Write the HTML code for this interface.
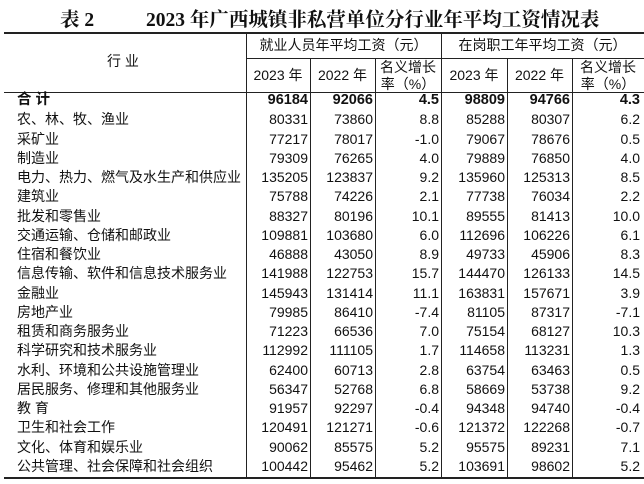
<!DOCTYPE html>
<html><head><meta charset="utf-8"><style>
body{margin:0;width:644px;height:484px;background:#fff;overflow:hidden;font-family:"Liberation Sans","Noto Sans CJK SC",sans-serif;color:#111;position:relative}
.t{position:absolute;top:4px;font:bold 19.5px "Liberation Serif","Noto Serif CJK SC",serif;white-space:pre}
.h{position:absolute;background:#222;height:1px}
.v{position:absolute;background:#222;width:1px}
.c{position:absolute;font-size:14px;text-align:center;line-height:17px}
table{position:absolute;top:91px;left:0;border-collapse:collapse;font-size:14px;table-layout:fixed;width:642px}
td{height:19.26px;padding:0 2px 0 0;line-height:19px;text-align:right;white-space:nowrap;overflow:hidden}
td.n{text-align:left;padding-left:17px}
tr.b td{font-weight:bold;font-size:14.5px}
</style></head><body>
<div class="t" style="left:60px">表 2</div>
<div class="t" style="left:146px">2023 年广西城镇非私营单位分行业年平均工资情况表</div>
<div class="h" style="left:4px;width:640px;top:32px;height:2px"></div>
<div class="h" style="left:246px;width:398px;top:58px"></div>
<div class="h" style="left:4px;width:640px;top:92px"></div>
<div class="h" style="left:4px;width:640px;top:477px;height:2px"></div>
<div class="v" style="left:246px;top:33px;height:445px"></div>
<div class="v" style="left:310px;top:58px;height:420px"></div>
<div class="v" style="left:375px;top:58px;height:420px"></div>
<div class="v" style="left:441px;top:33px;height:445px"></div>
<div class="v" style="left:507px;top:58px;height:420px"></div>
<div class="v" style="left:572px;top:58px;height:420px"></div>
<div class="c" style="left:0;width:246px;top:53px">行 业</div>
<div class="c" style="left:246px;width:195px;top:37px">就业人员年平均工资（元）</div>
<div class="c" style="left:441px;width:203px;top:37px">在岗职工年平均工资（元）</div>
<div class="c" style="left:246px;width:64px;top:67px">2023 年</div>
<div class="c" style="left:310px;width:65px;top:67px">2022 年</div>
<div class="c" style="left:375px;width:66px;top:59px">名义增长<br>率（%）</div>
<div class="c" style="left:441px;width:66px;top:67px">2023 年</div>
<div class="c" style="left:507px;width:65px;top:67px">2022 年</div>
<div class="c" style="left:572px;width:72px;top:59px">名义增长<br>率（%）</div>
<table>
<colgroup><col style="width:246px"><col style="width:64px"><col style="width:65px"><col style="width:66px"><col style="width:66px"><col style="width:65px"><col style="width:70px"></colgroup>
<tr class="b"><td class="n">合 计</td><td>96184</td><td>92066</td><td>4.5</td><td>98809</td><td>94766</td><td>4.3</td></tr>
<tr><td class="n">农、林、牧、渔业</td><td>80331</td><td>73860</td><td>8.8</td><td>85288</td><td>80307</td><td>6.2</td></tr>
<tr><td class="n">采矿业</td><td>77217</td><td>78017</td><td>-1.0</td><td>79067</td><td>78676</td><td>0.5</td></tr>
<tr><td class="n">制造业</td><td>79309</td><td>76265</td><td>4.0</td><td>79889</td><td>76850</td><td>4.0</td></tr>
<tr><td class="n">电力、热力、燃气及水生产和供应业</td><td>135205</td><td>123837</td><td>9.2</td><td>135960</td><td>125313</td><td>8.5</td></tr>
<tr><td class="n">建筑业</td><td>75788</td><td>74226</td><td>2.1</td><td>77738</td><td>76034</td><td>2.2</td></tr>
<tr><td class="n">批发和零售业</td><td>88327</td><td>80196</td><td>10.1</td><td>89555</td><td>81413</td><td>10.0</td></tr>
<tr><td class="n">交通运输、仓储和邮政业</td><td>109881</td><td>103680</td><td>6.0</td><td>112696</td><td>106226</td><td>6.1</td></tr>
<tr><td class="n">住宿和餐饮业</td><td>46888</td><td>43050</td><td>8.9</td><td>49733</td><td>45906</td><td>8.3</td></tr>
<tr><td class="n">信息传输、软件和信息技术服务业</td><td>141988</td><td>122753</td><td>15.7</td><td>144470</td><td>126133</td><td>14.5</td></tr>
<tr><td class="n">金融业</td><td>145943</td><td>131414</td><td>11.1</td><td>163831</td><td>157671</td><td>3.9</td></tr>
<tr><td class="n">房地产业</td><td>79985</td><td>86410</td><td>-7.4</td><td>81105</td><td>87317</td><td>-7.1</td></tr>
<tr><td class="n">租赁和商务服务业</td><td>71223</td><td>66536</td><td>7.0</td><td>75154</td><td>68127</td><td>10.3</td></tr>
<tr><td class="n">科学研究和技术服务业</td><td>112992</td><td>111105</td><td>1.7</td><td>114658</td><td>113231</td><td>1.3</td></tr>
<tr><td class="n">水利、环境和公共设施管理业</td><td>62400</td><td>60713</td><td>2.8</td><td>63754</td><td>63463</td><td>0.5</td></tr>
<tr><td class="n">居民服务、修理和其他服务业</td><td>56347</td><td>52768</td><td>6.8</td><td>58669</td><td>53738</td><td>9.2</td></tr>
<tr><td class="n">教 育</td><td>91957</td><td>92297</td><td>-0.4</td><td>94348</td><td>94740</td><td>-0.4</td></tr>
<tr><td class="n">卫生和社会工作</td><td>120491</td><td>121271</td><td>-0.6</td><td>121372</td><td>122268</td><td>-0.7</td></tr>
<tr><td class="n">文化、体育和娱乐业</td><td>90062</td><td>85575</td><td>5.2</td><td>95575</td><td>89231</td><td>7.1</td></tr>
<tr><td class="n">公共管理、社会保障和社会组织</td><td>100442</td><td>95462</td><td>5.2</td><td>103691</td><td>98602</td><td>5.2</td></tr>
</table>
</body></html>
